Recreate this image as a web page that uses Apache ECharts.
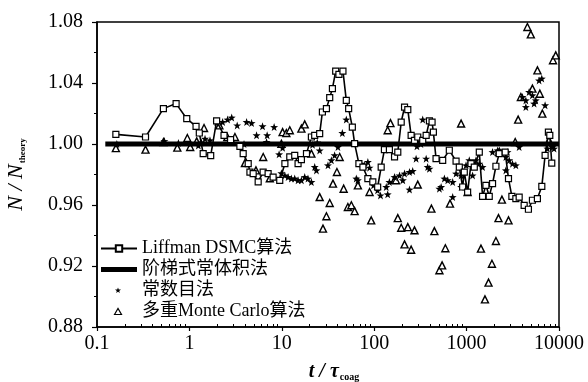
<!DOCTYPE html>
<html><head><meta charset="utf-8">
<script src="https://cdn.jsdelivr.net/npm/echarts@6/dist/echarts.min.js"></script>
<style>html,body{margin:0;padding:0;background:#fff}#c{width:588px;height:382px}</style>
</head><body><div id="c"></div>
<script>
var seriesNames = ['Liffman DSMC算法', '阶梯式常体积法', '常数目法', '多重Monte Carlo算法'];
var xTickLabels = ['0.1', '1', '10', '100', '1000', '10000'];
var minorMultipliers = [2, 3, 4, 5, 6, 7, 8, 9];

var dsmcX = [0.16,0.335,0.523,0.718,0.936,1.18,1.28,1.41,1.70,1.97,2.37,2.79,3.52,3.82,4.33,4.52,4.90,5.55,6.28,7.11,8.05,9.5,10.8,12.2,13.8,15.0,16.3,18.5,20.9,22.7,25.7,27.5,30.4,33.0,35.3,38.3,41.5,45.9,49.9,52.9,58.0,61.4,68.3,75.5,85.4,96.6,109,119,129,146,166,180,196,213,231,251,273,296,335,365,396,423,437,467,551,650,769,834,906,944,1026,1116,1211,1372,1489,1619,1758,1909,2076,2254,2616,2840,3090,3413,3706,4196,4667,5156,5838,6516,7074,7677,7950,8350];
var dsmcY = [1.0063,1.0046,1.0232,1.0265,1.0166,1.0116,1.0072,0.9937,0.9924,1.0151,1.0057,1.0029,0.9985,0.9937,0.9871,0.9816,0.9806,0.9751,0.9816,0.9806,0.9783,0.9762,0.9871,0.9915,0.9926,0.9871,0.9897,0.9937,1.0046,1.0057,1.0068,1.0210,1.0232,1.0304,1.0363,1.0478,1.0457,1.0478,1.0286,1.0232,1.0111,1.0002,0.9871,0.9849,0.9773,0.9751,0.9718,0.9849,0.9963,0.9963,0.9915,0.9947,1.0144,1.0242,1.0225,1.0057,1.0024,1.0046,1.0024,1.0057,1.0151,1.0144,1.0078,0.9904,0.9893,0.9959,0.9888,0.9849,0.9718,0.9816,0.9685,0.9871,0.9849,0.9947,0.9657,0.9729,0.9657,0.9740,0.9854,0.9937,0.9947,0.9773,0.9657,0.9642,0.9652,0.9598,0.9572,0.9631,0.9642,0.9722,0.9926,1.0078,1.0057,0.9875];

var stepX = [0.123, 10000];
var stepY = [1.0, 1.0];

var starX = [0.164,0.536,0.76,1.02,1.476,1.67,1.973,2.29,2.59,2.87,3.29,4.16,4.71,5.33,6.19,6.94,6.84,8.26,9.35,9.9,10.8,11.7,12.7,13.8,15.0,16.3,17.7,19.2,20.9,22.7,23.7,25.7,31.6,34.4,37.3,45.2,49.9,40.5,64.0,66.6,72.5,78.6,85.4,89.1,98.4,108.7,117,135,140,146,166,188,204,213,241,241,261,284,273,309,335,365,379,396,508,530,575,625,707,707,769,872,872,986,1069,1161,1211,1263,1371,1488,1908,2162,2254,2351,2660,2771,2891,3135,2660,3413,3706,4025,4377,4746,5155,5376,5608,6087,6510,7071,4377,7495,8474,8840,1.25,1.35,3.9,21.5,24.2,290,320,10.2];
var starY = [1.000,1.0019,1.0006,1.0002,1.0035,1.0024,1.0144,1.0144,1.0160,1.0173,1.0122,1.0144,1.0137,1.0057,1.0116,1.0057,1.0013,1.0111,0.9932,0.9808,0.9794,0.9783,0.9773,0.9773,0.9762,0.9762,0.9783,0.9773,0.9751,0.9849,0.9827,0.9958,0.9860,0.9893,0.9926,1.0072,1.0160,0.9980,0.9773,0.9762,0.9871,0.9860,0.9882,0.9845,0.9729,0.9696,0.9663,0.9718,0.9670,0.9751,0.9783,0.9794,0.9762,0.9806,0.9701,0.9816,0.9823,0.9904,1.0024,1.0017,1.0160,0.9904,0.9849,0.9838,0.9707,0.9718,0.9773,0.9762,0.9652,0.9751,0.9806,0.9718,0.9794,0.9860,0.9893,0.9794,0.9860,0.9893,0.9871,0.9849,0.9947,0.9958,0.9958,0.9947,0.9915,0.9947,0.9893,0.9871,0.9827,0.9860,0.9980,1.0308,1.0286,1.0341,1.0319,1.0265,1.0286,1.0417,1.0429,1.0254,1.0242,0.9970,0.9980,0.9970,0.9990,1.0010,1.0000,0.9995,1.0010,0.9985,1.0000,0.9975];

var triX = [0.160,0.335,0.524,0.74,0.95,1.02,1.20,1.44,2.11,2.57,3.11,3.99,5.25,6.29,7.42,10.2,11.2,12.2,16.3,17.7,9.9,20.9,25.7,27.9,30.4,33.0,35.8,39.5,42.3,46.7,51.9,56.6,61.4,66.6,92.8,140,150,166,180,196,231,273,213,251,296,416,448,508,543,589,661,872,1025,1430,1580,1727,1880,2077,2214,2411,2842,3357,3614,3867,4551,4956,5155,5843,6200,6600,8614,9220,89.1,172,2254,7800];
var triY = [0.9973,0.9963,1.0013,0.9976,1.0039,0.9980,1.0017,1.0105,1.0122,1.0046,1.0046,0.9875,0.9827,0.9915,0.9775,1.0078,1.0072,1.0090,1.0101,1.0129,1.0002,0.9937,0.9652,0.9445,0.9526,0.9613,0.9740,0.9816,0.9915,0.9707,0.9587,0.9598,0.9560,0.9729,0.9499,1.0090,1.0137,0.9766,0.9514,0.9451,0.9455,0.9434,0.9342,0.9307,0.9734,0.9576,0.9429,0.9172,0.9204,0.9316,0.9609,1.0134,0.9685,0.9314,0.8981,0.9091,0.9215,0.9364,0.9514,0.9635,0.9499,1.0013,1.0160,1.0308,1.0767,1.0719,1.0363,1.0483,1.0330,1.0199,1.0549,1.0581,0.9685,0.9762,0.9947,1.0024];

function zip(a, b) { return a.map(function (v, i) { return [v, b[i]]; }); }

var xMinorTicks = [];
[0.1, 1, 10, 100, 1000].forEach(function (d) {
  minorMultipliers.forEach(function (m) { xMinorTicks.push(+(d * m).toPrecision(3)); });
});

var starPath = 'path://M0,-10L2.35,-3.24L9.51,-3.09L3.8,1.24L5.88,8.09L0,4L-5.88,8.09L-3.8,1.24L-9.51,-3.09L-2.35,-3.24Z';
// legend icons: invisible move points fix a 36x8 box so the mark keeps its shape
var legendThick = 'path://M0,0M36,8M0,1.5L36,1.5L36,6.5L0,6.5Z';
var legendTri = 'path://M0,0M36,8M13.5,7L17,1L20.5,7Z';
var legendStar = 'path://M0,0M36,8M17,1L17.8,3.1L20,3.1L18.2,4.4L18.9,6.6L17,5.3L15.1,6.6L15.8,4.4L14,3.1L16.2,3.1Z';
var serif = "'Liberation Serif','Times New Roman',serif";
var legendFont = "'Liberation Serif','Noto Sans CJK SC',serif";

var chart = echarts.init(document.getElementById('c'), null, { renderer: 'canvas' });
chart.setOption({
  animation: false,
  backgroundColor: '#fff',
  grid: { left: 97, right: 29, top: 22, bottom: 55, show: true, borderColor: '#000', borderWidth: 1.5, backgroundColor: 'transparent', containLabel: false, outerBoundsMode: 'none' },
  legend: {
    orient: 'vertical', left: 95, top: 233,
    itemWidth: 36, itemHeight: 8, itemGap: 0,
    textStyle: { fontFamily: legendFont, fontSize: 18, color: '#000', lineHeight: 21 },
    data: [
      { name: seriesNames[0] },
      { name: seriesNames[1], icon: legendThick, itemStyle: { color: '#000', borderWidth: 0 } },
      { name: seriesNames[2], icon: legendStar, itemStyle: { color: '#000', borderWidth: 0 } },
      { name: seriesNames[3], icon: legendTri, itemStyle: { color: '#fff', borderColor: '#000', borderWidth: 1.2 } }
    ]
  },
  xAxis: [{
    type: 'log', logBase: 10, min: 0.1, max: 10000,
    axisLine: { lineStyle: { color: '#000', width: 1.5 } },
    axisTick: { inside: false, length: 4, lineStyle: { color: '#000', width: 1.2 } },
    splitLine: { show: false },
    axisLabel: {
      margin: 7, fontFamily: serif, fontSize: 20, color: '#000',
      formatter: function (v) { return xTickLabels[Math.round(Math.log10(v)) + 1]; }
    },
    name: '{i|t / τ}{s|coag}', nameLocation: 'middle', nameGap: 35,
    nameTextStyle: {
      rich: {
        i: { fontFamily: serif, fontStyle: 'italic', fontWeight: 'bold', fontSize: 20, color: '#000', padding: [0, 0, 0, 12] },
        s: { fontFamily: serif, fontWeight: 'bold', fontSize: 10, color: '#000', verticalAlign: 'bottom', padding: [9, 0, 0, 1] }
      }
    }
  }, {
    type: 'log', logBase: 10, min: 0.1, max: 10000, position: 'bottom',
    axisLine: { show: false },
    axisLabel: { show: false },
    splitLine: { show: false },
    axisTick: { show: true, inside: true, length: 3, customValues: xMinorTicks, lineStyle: { color: '#000', width: 1 } }
  }],
  yAxis: {
    type: 'value', min: 0.88, max: 1.08, interval: 0.04,
    axisLine: { show: true, lineStyle: { color: '#000', width: 1.5 } },
    axisTick: { show: true, inside: false, length: 5, lineStyle: { color: '#000', width: 1.2 } },
    minorTick: { show: true, splitNumber: 2, length: 3, lineStyle: { color: '#000', width: 1 } },
    splitLine: { show: false },
    axisLabel: {
      margin: 14, fontFamily: serif, fontSize: 20, color: '#000',
      formatter: function (v) { return v.toFixed(2); }
    },
    name: '{i|N / N}{s|theory}', nameLocation: 'middle', nameGap: 70, nameRotate: 90,
    nameTextStyle: {
      rich: {
        i: { fontFamily: serif, fontStyle: 'italic', fontSize: 22, color: '#000' },
        s: { fontFamily: serif, fontWeight: 'bold', fontSize: 9, color: '#000', verticalAlign: 'bottom', padding: [11, 0, 0, 1] }
      }
    }
  },
  series: [{
    name: seriesNames[3], type: 'scatter', data: zip(triX, triY),
    symbol: 'triangle', symbolSize: 7,
    itemStyle: { color: '#fff', borderColor: '#000', borderWidth: 1.4, opacity: 1 }, z: 2
  }, {
    name: seriesNames[2], type: 'scatter', data: zip(starX, starY),
    symbol: starPath, symbolSize: 8,
    itemStyle: { color: '#000', opacity: 1 }, z: 3
  }, {
    name: seriesNames[1], type: 'line', data: zip(stepX, stepY),
    showSymbol: false, symbol: 'none',
    lineStyle: { color: '#000', width: 5 }, itemStyle: { color: '#000' }, z: 4
  }, {
    name: seriesNames[0], type: 'line', data: zip(dsmcX, dsmcY),
    symbol: 'rect', symbolSize: 6, showAllSymbol: true,
    lineStyle: { color: '#000', width: 1.6 },
    itemStyle: { color: '#fff', borderColor: '#000', borderWidth: 1.2 }, z: 5
  }]
});
</script></body></html>
